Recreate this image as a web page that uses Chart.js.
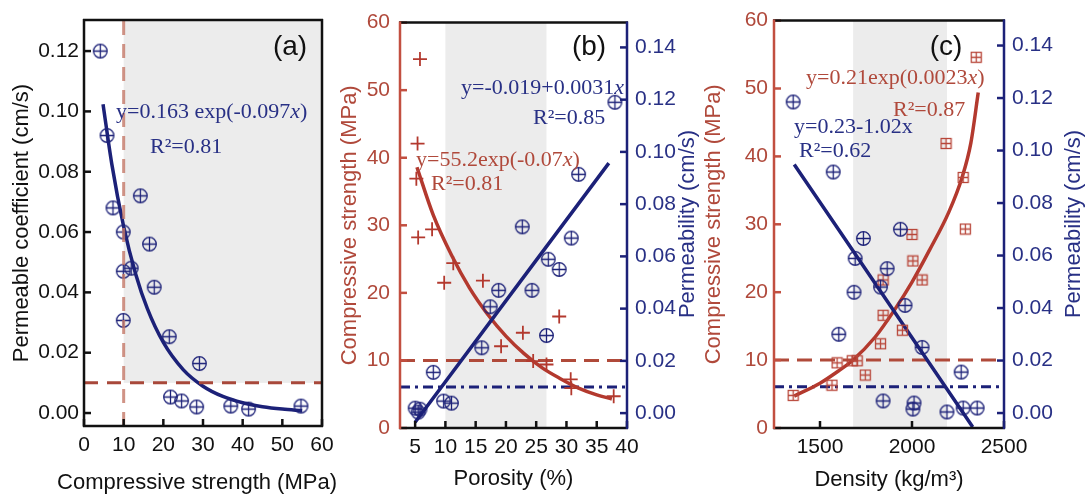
<!DOCTYPE html>
<html>
<head>
<meta charset="utf-8">
<script src="https://cdn.jsdelivr.net/npm/chart.js@4"></script>
<style>
  html, body { margin: 0; padding: 0; background: #fff; }
  #wrap { position: relative; width: 1088px; height: 500px; overflow: hidden; }
  canvas { position: absolute; top: 0; }
</style>
</head>
<body>
<div id="wrap">
  <canvas id="pa" width="345" height="500" style="left:0px"></canvas>
  <canvas id="pb" width="370" height="500" style="left:335px"></canvas>
  <canvas id="pc" width="388" height="500" style="left:700px"></canvas>
</div>
<script>
// ---- panel (a): permeability vs compressive strength
const aStrength = [4.1, 5.8, 7.3, 9.9, 14.2, 16.5, 9.9, 11.9, 17.7, 9.9, 21.5, 29.1, 21.8, 24.6, 28.4, 37.0, 41.5, 54.7];
const aPerm = [0.120, 0.092, 0.068, 0.060, 0.072, 0.056, 0.047, 0.048, 0.0417, 0.0307, 0.0253, 0.0164, 0.0053, 0.0040, 0.0020, 0.0023, 0.0013, 0.0023];
const aFitX = [4.8, 7, 10, 13, 16, 20, 25, 30, 35, 40, 45, 50, 55];
const aFitY = [0.1024, 0.0826, 0.0618, 0.0462, 0.0345, 0.0234, 0.0144, 0.0089, 0.0055, 0.0034, 0.0021, 0.0013, 0.0008];
const aTicksX = [0, 10, 20, 30, 40, 50, 60];
const aTicksY = [0, 0.02, 0.04, 0.06, 0.08, 0.10, 0.12];
const aRefStrength = 10, aRefPerm = 0.01;

// ---- panel (b): strength and permeability vs porosity
const bPorCS = [5.8, 5.4, 5.2, 5.5, 7.8, 11.3, 9.8, 16.2, 19.2, 22.8, 24.5, 26.7, 28.8, 30.7, 30.8, 37.8];
const bStrength = [54.6, 42.1, 36.9, 28.2, 29.4, 24.4, 21.5, 21.8, 12.1, 14.1, 9.9, 9.4, 16.5, 7.2, 5.9, 4.7];
const bPorP = [38, 32, 22.7, 30.8, 27, 28.8, 18.8, 24.3, 17.4, 26.7, 16, 8, 9.7, 11, 5, 5.8, 5.5];
const bPerm = [0.119, 0.0914, 0.0713, 0.067, 0.0589, 0.055, 0.047, 0.047, 0.0407, 0.0297, 0.025, 0.0156, 0.0046, 0.0038, 0.0019, 0.0015, 0.0004];
const bFitCSX = [5.3, 8, 11, 14, 17, 20, 23, 26, 29, 32, 35, 37.5];
const bFitCSY = [38.6, 31.5, 25.6, 20.7, 16.8, 13.6, 11.0, 8.9, 7.3, 5.9, 4.9, 4.3];
const bFitPX = [5, 37];
const bFitPY = [-0.0035, 0.0957];
const bTicksX = [5, 10, 15, 20, 25, 30, 35, 40];

// ---- panel (c): strength and permeability vs density
const cDenCS = [2349, 2185, 2278, 2290, 2000, 2005, 2055, 1843, 1843, 1948, 1829, 1593, 1702, 1675, 1746, 1565, 1354];
const cStrength = [54.6, 41.9, 36.9, 29.3, 28.5, 24.6, 21.8, 21.8, 16.6, 14.4, 12.4, 9.6, 9.9, 9.9, 7.8, 6.3, 4.8];
const cDenP = [1354, 1572, 1736, 1937, 1691, 1865, 1685, 1829, 1962, 1602, 2055, 2267, 1843, 2011, 2005, 2190, 2278, 2354];
const cPerm = [0.1185, 0.0918, 0.0665, 0.070, 0.0589, 0.055, 0.046, 0.048, 0.041, 0.030, 0.025, 0.0156, 0.0046, 0.0038, 0.0015, 0.0004, 0.0019, 0.0019];
const cFitCSX = [1360, 1500, 1600, 1675, 1800, 1905, 2000, 2095, 2200, 2272, 2320, 2360];
const cFitCSY = [4.7, 6.6, 8.4, 9.9, 13.4, 17.4, 21.5, 26.2, 31.8, 36.9, 42.0, 49.4];
const cFitPX = [1360, 2330];
const cFitPY = [0.0947, -0.0053];
const cTicksX = [1500, 2000, 2500];

// shared
const csTicks = [0, 10, 20, 30, 40, 50, 60];
const permTicks = [0, 0.02, 0.04, 0.06, 0.08, 0.10, 0.12, 0.14];
const csLimit = 10, permLimit = 0.01;

const SANS = '"Liberation Sans", Arial, sans-serif';
const SERIF = '"Liberation Serif", "Times New Roman", serif';
const RED = '#b3392e', RED_AX = '#c24f40', RED_TXT = '#b0493b';
const NAVY = '#1c2178', NAVY_TXT = '#283085', BLACK = '#111';
const GRAY = '#ececec';

const pts = (xs, ys) => xs.map((x, i) => ({ x, y: ys[i] }));

function circlePlus(color) {
  const c = document.createElement('canvas');
  c.width = c.height = 17;
  const g = c.getContext('2d');
  g.strokeStyle = color; g.lineWidth = 1.3;
  g.beginPath();
  g.arc(8.5, 8.5, 6.8, 0, Math.PI * 2);
  g.moveTo(1.7, 8.5); g.lineTo(15.3, 8.5);
  g.moveTo(8.5, 1.7); g.lineTo(8.5, 15.3);
  g.stroke();
  return c;
}
function squarePlus(color) {
  const c = document.createElement('canvas');
  c.width = c.height = 13;
  const g = c.getContext('2d');
  g.strokeStyle = color; g.lineWidth = 1.3;
  g.strokeRect(1.5, 1.5, 10, 10);
  g.beginPath();
  g.moveTo(1.5, 6.5); g.lineTo(11.5, 6.5);
  g.moveTo(6.5, 1.5); g.lineTo(6.5, 11.5);
  g.stroke();
  return c;
}
const navyCirc = circlePlus(NAVY);
const redSquare = squarePlus('#b8473a');

function axis(o) {
  return {
    type: 'linear', position: o.pos, min: o.min, max: o.max,
    afterBuildTicks: s => { s.ticks = o.ticks.map(v => ({ value: v })); },
    afterFit: s => { if (o.pos === 'bottom') s.height = o.size; else s.width = o.size; },
    grid: { display: false, drawTicks: false },
    border: { display: false },
    ticks: {
      color: o.color, padding: o.pad, autoSkip: false, maxRotation: 0,
      font: { family: SANS, size: 21 },
      callback: v => o.fmt ? v.toFixed(o.fmt) : String(v)
    },
    title: o.title
      ? { display: true, text: o.title, color: o.color, font: { family: SANS, size: 22 }, padding: o.tpad }
      : { display: false }
  };
}

function fitLine(data, color, yAxisID) {
  return { data, yAxisID, showLine: true, pointRadius: 0, borderColor: color, borderWidth: 3.5,
           cubicInterpolationMode: 'monotone', fill: false };
}
function refLine(data, color, dash, yAxisID) {
  return { data, yAxisID, showLine: true, pointRadius: 0, borderColor: color, borderWidth: 3,
           borderDash: dash, fill: false };
}
function marks(data, style, color, yAxisID, extra) {
  return Object.assign({ data, yAxisID, pointStyle: style, pointRadius: 7, borderColor: color,
                         backgroundColor: 'transparent', borderWidth: 1.8, showLine: false }, extra || {});
}

function drawText(ctx, t, off) {
  ctx.save();
  ctx.fillStyle = t.color;
  ctx.textBaseline = 'middle';
  ctx.textAlign = 'left';
  ctx.translate(t.x - off, t.y);
  if (t.rot) ctx.rotate(t.rot);
  const fam = t.serif ? SERIF : SANS;
  const fonts = t.runs.map(r => (r[1] ? 'italic ' : '') + t.size + 'px ' + fam);
  let total = 0;
  const w = t.runs.map((r, i) => { ctx.font = fonts[i]; const m = ctx.measureText(r[0]).width; total += m; return m; });
  let x = t.align === 'center' ? -total / 2 : 0;
  t.runs.forEach((r, i) => { ctx.font = fonts[i]; ctx.fillText(r[0], x, 0); x += w[i]; });
  ctx.restore();
}

function decor(spec, off) {
  return {
    id: 'decor',
    beforeDatasetsDraw(chart) {
      const { ctx, chartArea: a, scales } = chart;
      const sx = scales.x, sy = scales.y;
      const x0 = sx.getPixelForValue(spec.shadeX[0]), x1 = sx.getPixelForValue(spec.shadeX[1]);
      const yb = spec.shadeY ? sy.getPixelForValue(spec.shadeY[0]) : a.bottom;
      const yt = spec.shadeY ? sy.getPixelForValue(spec.shadeY[1]) : a.top;
      ctx.save();
      ctx.fillStyle = GRAY;
      ctx.fillRect(x0, yt, x1 - x0, yb - yt);
      ctx.restore();
    },
    afterDraw(chart) {
      const { ctx, chartArea: a, scales } = chart;
      const T = 7;
      ctx.save();
      ctx.lineWidth = 2.5;
      // inward tick marks
      Object.values(scales).forEach(s => {
        const col = spec.frame[s.position];
        ctx.strokeStyle = col;
        s.ticks.forEach(t => {
          const p = s.getPixelForValue(t.value);
          ctx.beginPath();
          if (s.position === 'bottom') { ctx.moveTo(p, a.bottom); ctx.lineTo(p, a.bottom - T); }
          else if (s.position === 'left') { ctx.moveTo(a.left, p); ctx.lineTo(a.left + T, p); }
          else { ctx.moveTo(a.right, p); ctx.lineTo(a.right - T, p); }
          ctx.stroke();
        });
      });
      // frame
      const side = (col, x0, y0, x1, y1) => { ctx.strokeStyle = col; ctx.beginPath(); ctx.moveTo(x0, y0); ctx.lineTo(x1, y1); ctx.stroke(); };
      side(spec.frame.top, a.left - 1, a.top, a.right + 1, a.top);
      side(spec.frame.bottom, a.left - 1, a.bottom, a.right + 1, a.bottom);
      side(spec.frame.left, a.left, a.top - 1, a.left, a.bottom + 1);
      side(spec.frame.right, a.right, a.top - 1, a.right, a.bottom + 1);
      ctx.restore();
      spec.texts.forEach(t => drawText(ctx, t, off));
    }
  };
}

function panel(id, off, o) {
  new Chart(document.getElementById(id), {
    type: 'scatter',
    data: { datasets: o.datasets },
    options: {
      responsive: false, animation: false, events: [],
      layout: { padding: { top: 20, right: o.padRight || 0, bottom: 0, left: 0 } },
      plugins: { legend: { display: false }, tooltip: { enabled: false } },
      scales: o.scales
    },
    plugins: [decor(o.decor, off)]
  });
}

// ---------- (a)
const aMinX = 0, aMaxX = 60, aMinY = -0.0043, aMaxY = 0.1303;
panel('pa', 0, {
  padRight: 23,
  datasets: [
    refLine([{ x: aRefStrength, y: aMinY }, { x: aRefStrength, y: aMaxY }], 'rgba(196,120,104,0.8)', [14, 9]),
    refLine([{ x: aMinX, y: aRefPerm }, { x: aMaxX, y: aRefPerm }], '#a8483a', [14, 9]),
    fitLine(pts(aFitX, aFitY), NAVY),
    marks(pts(aStrength, aPerm), navyCirc, NAVY)
  ],
  scales: {
    x: axis({ pos: 'bottom', min: aMinX, max: aMaxX, ticks: aTicksX, size: 74, pad: 7, color: BLACK }),
    y: axis({ pos: 'left', min: aMinY, max: aMaxY, ticks: aTicksY, size: 84, pad: 5, fmt: 2, color: BLACK,
              title: 'Permeable coefficient (cm/s)', tpad: { top: 9, bottom: 0 } })
  },
  decor: {
    shadeX: [aRefStrength, aMaxX], shadeY: [aRefPerm, aMaxY],
    frame: { top: BLACK, bottom: BLACK, left: BLACK, right: BLACK },
    texts: [
      { x: 290, y: 47, color: BLACK, size: 28, align: 'center', runs: [['(a)', 0]] },
      { x: 116, y: 112, color: NAVY_TXT, size: 22, serif: true, runs: [['y=0.163 exp(-0.097', 0], ['x', 1], [')', 0]] },
      { x: 150, y: 147, color: NAVY_TXT, size: 22, serif: true, runs: [['R²=0.81', 0]] },
      { x: 197, y: 483, color: BLACK, size: 22, align: 'center', runs: [['Compressive strength (MPa)', 0]] }
    ]
  }
});

// ---------- (b)
const bMinX = 2.5, bMaxX = 40, csMin = 0, csMax = 60, permMin = -0.0057, permMax = 0.1495;
const bShade = [10, 26.7];
panel('pb', 335, {
  datasets: [
    marks(pts(bPorP, bPerm), navyCirc, NAVY, 'y1'),
    fitLine(pts(bFitPX, bFitPY), NAVY, 'y1'),
    marks(pts(bPorCS, bStrength), 'cross', RED, 'y'),
    fitLine(pts(bFitCSX, bFitCSY), RED, 'y'),
    refLine([{ x: bMinX, y: permLimit }, { x: bMaxX, y: permLimit }], NAVY, [10, 5, 3, 5], 'y1'),
    refLine([{ x: bMinX, y: csLimit }, { x: bMaxX, y: csLimit }], '#b04a3a', [15, 8], 'y')
  ],
  scales: {
    x: axis({ pos: 'bottom', min: bMinX, max: bMaxX, ticks: bTicksX, size: 72, pad: 7, color: BLACK,
              title: 'Porosity (%)', tpad: { top: 0, bottom: 8 } }),
    y: axis({ pos: 'left', min: csMin, max: csMax, ticks: csTicks, size: 65, pad: 10, color: RED_TXT,
              title: 'Compressive strength (MPa)', tpad: { top: 2, bottom: 0 } }),
    y1: axis({ pos: 'right', min: permMin, max: permMax, ticks: permTicks, size: 78, pad: 8, fmt: 2, color: NAVY_TXT })
  },
  decor: {
    shadeX: bShade,
    frame: { top: BLACK, bottom: BLACK, left: RED_AX, right: NAVY },
    texts: [
      { x: 589, y: 47, color: BLACK, size: 28, align: 'center', runs: [['(b)', 0]] },
      { x: 461, y: 88, color: NAVY_TXT, size: 22, serif: true, runs: [['y=-0.019+0.0031', 0], ['x', 1]] },
      { x: 533, y: 118, color: NAVY_TXT, size: 22, serif: true, runs: [['R²=0.85', 0]] },
      { x: 416, y: 160, color: RED_TXT, size: 22, serif: true, runs: [['y=55.2exp(-0.07', 0], ['x', 1], [')', 0]] },
      { x: 431, y: 184, color: RED_TXT, size: 22, serif: true, runs: [['R²=0.81', 0]] },
      { x: 688, y: 224, color: NAVY_TXT, size: 22, rot: -Math.PI / 2, align: 'center', runs: [['Permeability (cm/s)', 0]] }
    ]
  }
});

// ---------- (c)
const cMinX = 1250, cMaxX = 2500;
const cShade = [1680, 2190];
panel('pc', 700, {
  datasets: [
    marks(pts(cDenP, cPerm), navyCirc, NAVY, 'y1'),
    marks(pts(cDenCS, cStrength), redSquare, RED, 'y'),
    fitLine(pts(cFitPX, cFitPY), NAVY, 'y1'),
    fitLine(pts(cFitCSX, cFitCSY), RED, 'y'),
    refLine([{ x: cMinX, y: permLimit }, { x: cMaxX, y: permLimit }], NAVY, [10, 5, 3, 5], 'y1'),
    refLine([{ x: cMinX, y: csLimit }, { x: cMaxX, y: csLimit }], '#b04a3a', [15, 8], 'y')
  ],
  scales: {
    x: axis({ pos: 'bottom', min: cMinX, max: cMaxX, ticks: cTicksX, size: 72, pad: 7, color: BLACK,
              title: 'Density (kg/m³)', tpad: { top: 0, bottom: 7 } }),
    y: axis({ pos: 'left', min: csMin, max: csMax, ticks: csTicks, size: 74, pad: 6, color: RED_TXT,
              title: 'Compressive strength (MPa)', tpad: { top: 1, bottom: 0 } }),
    y1: axis({ pos: 'right', min: permMin, max: permMax, ticks: permTicks, size: 84, pad: 8, fmt: 2, color: NAVY_TXT })
  },
  decor: {
    shadeX: cShade,
    frame: { top: BLACK, bottom: BLACK, left: RED_AX, right: NAVY },
    texts: [
      { x: 946, y: 47, color: BLACK, size: 28, align: 'center', runs: [['(c)', 0]] },
      { x: 806, y: 78, color: RED_TXT, size: 22, serif: true, runs: [['y=0.21exp(0.0023', 0], ['x', 1], [')', 0]] },
      { x: 893, y: 110, color: RED_TXT, size: 22, serif: true, runs: [['R²=0.87', 0]] },
      { x: 794, y: 127, color: NAVY_TXT, size: 22, serif: true, runs: [['y=0.23-1.02x', 0]] },
      { x: 799, y: 151, color: NAVY_TXT, size: 22, serif: true, runs: [['R²=0.62', 0]] },
      { x: 1074, y: 224, color: NAVY_TXT, size: 22, rot: -Math.PI / 2, align: 'center', runs: [['Permeability (cm/s)', 0]] }
    ]
  }
});
</script>
</body>
</html>
